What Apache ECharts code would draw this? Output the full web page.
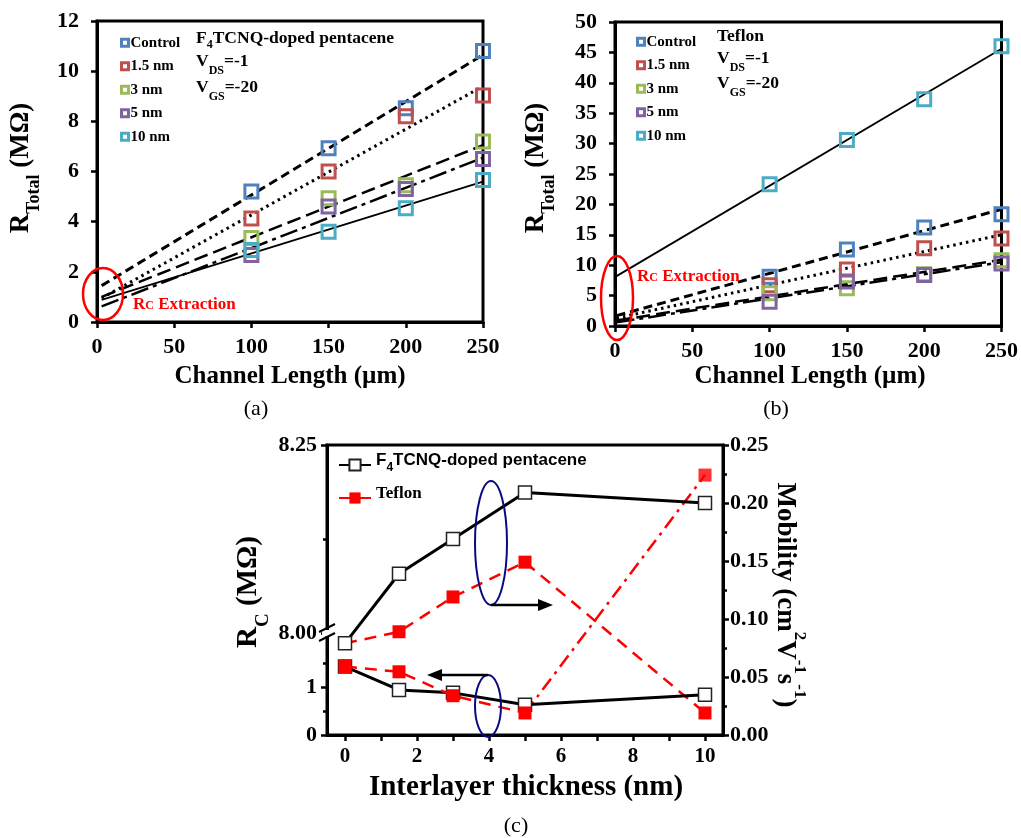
<!DOCTYPE html>
<html>
<head>
<meta charset="utf-8">
<script src="https://cdn.jsdelivr.net/npm/echarts@6/dist/echarts.min.js"></script>
<style>
  html, body { margin: 0; padding: 0; background: #fff; }
  #chart { width: 1021px; height: 838px; }
</style>
</head>
<body>
<div id="chart"></div>
<script>
// ---- data ----
const channelLength = [100, 150, 200, 250]
const seriesNames = ['Control', '1.5 nm', '3 nm', '5 nm', '10 nm']

// (a) F4TCNQ-doped pentacene, R_total (MOhm)
const aControl = [5.2, 6.93, 8.52, 10.8]
const a15nm = [4.13, 6.0, 8.2, 9.03]
const a3nm = [3.35, 4.93, 5.45, 7.2]
const a5nm = [2.67, 4.6, 5.3, 6.5]
const a10nm = [2.87, 3.6, 4.53, 5.66]
// linear fits (value at start / end of the fitted line)
const aFitX = [3, 250]
const aFitStart = [1.45, 0.95, 1.0, 0.62, 0.88]
const aFitEnd = [10.65, 9.4, 7.05, 6.55, 5.6]

// (b) Teflon, R_total (MOhm)
const bControl = [8.1, 12.6, 16.2, 18.4]
const b15nm = [6.7, 9.3, 12.8, 14.4]
const b3nm = [5.4, 6.2, 8.5, 10.8]
const b5nm = [4.0, 7.3, 8.4, 10.3]
const b10nm = [23.3, 30.6, 37.3, 46.0]
const bFitX = [1, 250]
const bFitStart = [1.7, 1.3, 0.9, 0.6, 8.2]
const bFitEnd = [19.2, 15.0, 10.9, 10.5, 45.6]

// (c) vs interlayer thickness
const thickness = [0, 1.5, 3, 5, 10]
const mobF4 = [0.079, 0.139, 0.169, 0.209, 0.200]
const mobTeflon = [0.079, 0.089, 0.119, 0.149, 0.019]
const rcF4 = [1.43, 0.94, 0.88, 0.63, 0.84]
const rcTeflon = [1.43, 1.32, 0.82, 0.46, 8.21]
const rcBreak = 8   // values above this sit on the upper (broken) part of the axis

const colors = ['#4F81BD', '#C0504D', '#9BBB59', '#8064A2', '#4BACC6']
const fitStyles = [
  { type: [9, 5], width: 3 },
  { type: [2.5, 4], width: 3 },
  { type: [14, 6], width: 2.5 },
  { type: [18, 5, 4, 5], width: 2.5 },
  { type: 'solid', width: 1.8 }
]
const SERIF = '"Liberation Serif", "Times New Roman", serif'
const SANS = '"Liberation Sans", Arial, sans-serif'
const F4NAME = 'F4TCNQ-doped pentacene'

const chart = echarts.init(document.getElementById('chart'))

function valAxis(o) {
  return {
    type: 'value',
    gridIndex: o.grid,
    position: o.pos,
    min: o.min,
    max: o.max,
    interval: o.interval,
    show: o.show !== false,
    splitLine: { show: false },
    axisLine: { show: true, onZero: false, lineStyle: { color: '#000', width: 3 } },
    axisTick: { show: true, length: 6, customValues: o.tickValues, lineStyle: { color: '#000', width: 2.5 } },
    minorTick: { show: !!o.minor, splitNumber: 2, length: 4, lineStyle: { color: '#000', width: 2.5 } },
    axisLabel: {
      color: '#000', fontFamily: SERIF, fontWeight: 'bold', fontSize: o.fs || 22,
      margin: o.margin, formatter: o.fmt, customValues: o.labelValues
    }
  }
}

const pointSets = [[aControl, a15nm, a3nm, a5nm, a10nm], [bControl, b15nm, b3nm, b5nm, b10nm]]
const fitSets = [[aFitX, aFitStart, aFitEnd], [bFitX, bFitStart, bFitEnd]]

const series = []
for (let p = 0; p < 2; p++) {
  for (let i = 0; i < 5; i++) {
    const fx = fitSets[p][0]
    series.push({
      name: 'fit-' + p + '-' + i,
      type: 'line',
      xAxisIndex: p, yAxisIndex: p,
      data: [[fx[0], fitSets[p][1][i]], [fx[1], fitSets[p][2][i]]],
      symbol: 'none',
      silent: true,
      z: 2,
      lineStyle: { color: '#000', width: fitStyles[i].width, type: fitStyles[i].type }
    })
    series.push({
      name: seriesNames[i],
      type: 'scatter',
      xAxisIndex: p, yAxisIndex: p,
      data: channelLength.map((x, k) => [x, pointSets[p][i][k]]),
      symbol: 'rect',
      symbolSize: 13,
      z: 3,
      itemStyle: { color: 'rgba(255,255,255,0)', borderColor: colors[i], borderWidth: 3, opacity: 1 }
    })
  }
}

// (c) mobility on the right axis
series.push({
  name: 'Teflon', type: 'line', xAxisIndex: 2, yAxisIndex: 2, z: 4,
  data: thickness.map((t, k) => [t, mobTeflon[k]]),
  symbol: 'rect', symbolSize: 13,
  itemStyle: { color: '#ff0000' },
  lineStyle: { color: '#ff0000', width: 2.5, type: [12, 8] }
})
series.push({
  name: F4NAME, type: 'line', xAxisIndex: 2, yAxisIndex: 2, z: 5,
  data: thickness.map((t, k) => [t, mobF4[k]]),
  symbol: 'rect', symbolSize: 13,
  itemStyle: { color: '#fff', borderColor: '#222', borderWidth: 1.5 },
  lineStyle: { color: '#000', width: 3 }
})
// (c) contact resistance on the broken left axis
series.push({
  name: F4NAME, type: 'line', xAxisIndex: 3, yAxisIndex: 3, z: 4,
  data: thickness.map((t, k) => [t, rcF4[k]]),
  symbol: 'rect', symbolSize: 13,
  itemStyle: { color: '#fff', borderColor: '#222', borderWidth: 1.5 },
  lineStyle: { color: '#000', width: 3 }
})
series.push({
  name: 'Teflon', type: 'line', xAxisIndex: 3, yAxisIndex: 3, z: 5,
  data: thickness.map((t, k) => [t, rcTeflon[k]]).filter(d => d[1] < rcBreak),
  symbol: 'rect', symbolSize: 13,
  itemStyle: { color: '#ff0000' },
  lineStyle: { color: '#ff0000', width: 2.5, type: [12, 8] }
})
series.push({
  name: 'Teflon', type: 'scatter', xAxisIndex: 4, yAxisIndex: 4, z: 5,
  data: thickness.map((t, k) => [t, rcTeflon[k]]).filter(d => d[1] >= rcBreak),
  symbol: 'rect', symbolSize: 13,
  itemStyle: { color: '#ff0000' }
})

// ---- text helpers (graphic text uses zrender "fill" for colour) ----
const subRich = (size, subSize, drop, color) => ({
  m: { fontFamily: SERIF, fontWeight: 'bold', fontSize: size, lineHeight: size + 2, padding: [0, 0, drop, 0], verticalAlign: 'bottom', fill: color || '#000' },
  s: { fontFamily: SERIF, fontWeight: 'bold', fontSize: subSize, lineHeight: subSize + 1, verticalAlign: 'bottom', fill: color || '#000' },
  f: { fontFamily: SERIF, fontWeight: 'bold', fontSize: subSize, lineHeight: subSize + 1, padding: [0, 0, Math.round(drop / 2), 0], verticalAlign: 'bottom', fill: color || '#000' }
})
function txt(x, y, text, rich, extra) {
  return Object.assign({
    type: 'text', x: x, y: y, z: 20, silent: true,
    style: { text: text, rich: rich, align: 'center', verticalAlign: 'middle' }
  }, extra || {})
}
function leftTxt(x, y, text, rich) {
  return txt(x, y, text, rich, { style: { text: text, rich: rich, align: 'left', verticalAlign: 'middle' } })
}
const plain = (size, weight) => ({ t: { fontFamily: SERIF, fontWeight: weight || 'bold', fontSize: size, fill: '#000' } })
const annRich = subRich(17.5, 12, 6)
const redRich = {
  r: { fontFamily: SERIF, fontWeight: 'bold', fontSize: 17, lineHeight: 18, verticalAlign: 'bottom', fill: '#ff0000' },
  c: { fontFamily: SERIF, fontWeight: 'bold', fontSize: 12, lineHeight: 14, verticalAlign: 'bottom', padding: [0, 0, 1, 0], fill: '#ff0000' }
}
const yTitleRich = subRich(27, 18, 9)
const supRich = {
  m: { fontFamily: SERIF, fontWeight: 'bold', fontSize: 27, lineHeight: 29, padding: [9, 0, 0, 0], verticalAlign: 'top', fill: '#000' },
  p: { fontFamily: SERIF, fontWeight: 'bold', fontSize: 17, lineHeight: 18, verticalAlign: 'top', fill: '#000' }
}

const graphics = [
  // panel (a)
  txt(29, 168, '{m|R}{s|Total}{m| (MΩ)}', yTitleRich, { rotation: Math.PI / 2 }),
  txt(290, 377, '{t|Channel Length (µm)}', plain(25)),
  txt(256, 409, '{t|(a)}', plain(22, 'normal')),
  leftTxt(196, 44, '{m|F}{f|4}{m|TCNQ-doped pentacene}', annRich),
  leftTxt(196, 67, '{m|V}{s|DS}{m|=-1}', annRich),
  leftTxt(196, 93, '{m|V}{s|GS}{m|=-20}', annRich),
  { type: 'ellipse', z: 20, silent: true, shape: { cx: 103, cy: 294, rx: 20, ry: 26 }, style: { fill: null, stroke: '#ff0000', lineWidth: 2.5 } },
  leftTxt(133, 304, '{r|R}{c|C}{r| Extraction}', redRich),
  // panel (b)
  txt(544, 168, '{m|R}{s|Total}{m| (MΩ)}', yTitleRich, { rotation: Math.PI / 2 }),
  txt(810, 377, '{t|Channel Length (µm)}', plain(25)),
  txt(776, 409, '{t|(b)}', plain(22, 'normal')),
  leftTxt(717, 42, '{m|Teflon}', annRich),
  leftTxt(717, 64, '{m|V}{s|DS}{m|=-1}', annRich),
  leftTxt(717, 89, '{m|V}{s|GS}{m|=-20}', annRich),
  { type: 'ellipse', z: 20, silent: true, shape: { cx: 617, cy: 298, rx: 16, ry: 42 }, style: { fill: null, stroke: '#ff0000', lineWidth: 2.5 } },
  leftTxt(637, 276, '{r|R}{c|C}{r| Extraction}', redRich),
  // panel (c)
  txt(257, 592, '{m|R}{s|C}{m| (MΩ)}', subRich(29, 19, 9), { rotation: Math.PI / 2 }),
  txt(793, 595, '{m|Mobility (cm}{p|2}{m|V}{p|-1}{m|s}{p|-1}{m|)}', supRich, { rotation: -Math.PI / 2 }),
  txt(526, 788, '{t|Interlayer thickness (nm)}', plain(29)),
  txt(516, 826, '{t|(c)}', plain(22, 'normal')),
  { type: 'ellipse', z: 20, silent: true, shape: { cx: 491, cy: 543, rx: 16, ry: 62 }, style: { fill: null, stroke: '#0a0a80', lineWidth: 2 } },
  { type: 'line', z: 20, silent: true, shape: { x1: 491, y1: 605, x2: 540, y2: 605 }, style: { stroke: '#000', lineWidth: 2.5 } },
  { type: 'polygon', z: 20, silent: true, shape: { points: [[538, 599], [553, 605], [538, 611]] }, style: { fill: '#000' } },
  { type: 'ellipse', z: 20, silent: true, shape: { cx: 488, cy: 706, rx: 13, ry: 31 }, style: { fill: null, stroke: '#0a0a80', lineWidth: 2 } },
  { type: 'line', z: 20, silent: true, shape: { x1: 488, y1: 675, x2: 440, y2: 675 }, style: { stroke: '#000', lineWidth: 2.5 } },
  { type: 'polygon', z: 20, silent: true, shape: { points: [[442, 669], [427, 675], [442, 681]] }, style: { fill: '#000' } },
  // axis break mark
  { type: 'rect', z: 30, silent: true, shape: { x: 322, y: 630, width: 10, height: 6 }, style: { fill: '#fff' } },
  { type: 'line', z: 31, silent: true, shape: { x1: 319, y1: 632, x2: 335, y2: 624 }, style: { stroke: '#000', lineWidth: 2 } },
  { type: 'line', z: 31, silent: true, shape: { x1: 319, y1: 641, x2: 335, y2: 633 }, style: { stroke: '#000', lineWidth: 2 } }
]

const legendAB = (left, top) => ({
  left: left, top: top, orient: 'vertical',
  itemWidth: 7, itemHeight: 7, itemGap: 8,
  selectedMode: false,
  textStyle: { fontFamily: SERIF, fontWeight: 'bold', fontSize: 15, lineHeight: 15.5, color: '#000', padding: [0, 0, 0, -3] },
  data: seriesNames.map((n, i) => ({ name: n, icon: 'rect', itemStyle: { color: '#fff', borderColor: colors[i], borderWidth: 3 } }))
})

const option = {
  backgroundColor: '#fff',
  animation: false,
  grid: [
    { left: 97, top: 21, width: 386, height: 301, show: true, borderColor: '#000', borderWidth: 3 },
    { left: 615, top: 22, width: 390, height: 304, show: true, borderColor: '#000', borderWidth: 3 },
    { left: 327, top: 445, width: 396, height: 290, show: true, borderColor: '#000', borderWidth: 3 },
    { left: 327, top: 633, width: 396, height: 102 },
    { left: 327, top: 445, width: 396, height: 188 }
  ],
  xAxis: [
    valAxis({ grid: 0, min: 0, max: 250, interval: 50, margin: 14 }),
    valAxis({ grid: 1, min: 0, max: 250, interval: 50, margin: 14 }),
    valAxis({ grid: 2, min: -0.5, max: 10.5, fs: 21, margin: 11,
      labelValues: [0, 2, 4, 6, 8, 10], tickValues: [0, 1, 2, 3, 4, 5, 6, 7, 8, 9, 10] }),
    valAxis({ grid: 3, min: -0.5, max: 10.5, show: false }),
    valAxis({ grid: 4, min: -0.5, max: 10.5, show: false })
  ],
  yAxis: [
    valAxis({ grid: 0, min: 0, max: 12, interval: 2, margin: 18 }),
    valAxis({ grid: 1, min: 0, max: 50, interval: 5, margin: 18 }),
    valAxis({ grid: 2, pos: 'right', min: 0, max: 0.25, interval: 0.05, minor: true, margin: 7,
      fmt: v => v.toFixed(2) }),
    valAxis({ grid: 3, pos: 'left', min: 0, max: 2.13, interval: 1, minor: true, margin: 10,
      labelValues: [0, 1], tickValues: [0, 1] }),
    valAxis({ grid: 4, pos: 'left', min: 8, max: 8.25, interval: 0.25, minor: true, margin: 10,
      fmt: v => v.toFixed(2) })
  ],
  legend: [
    legendAB(115, 30),
    legendAB(631, 29),
    {
      left: 333, top: 447, orient: 'vertical',
      itemWidth: 32, itemHeight: 14, itemGap: 11,
      selectedMode: false,
      data: [F4NAME, 'Teflon'],
      formatter: n => n === F4NAME ? '{f|F}{s|4}{f|TCNQ-doped pentacene}' : '{t|Teflon}',
      textStyle: {
        color: '#000',
        rich: {
          f: { fontFamily: SANS, fontWeight: 'bold', fontSize: 17, lineHeight: 18, padding: [0, 0, 5, 0], verticalAlign: 'bottom', color: '#000' },
          s: { fontFamily: SANS, fontWeight: 'bold', fontSize: 12, lineHeight: 12, verticalAlign: 'bottom', color: '#000' },
          t: { fontFamily: SERIF, fontWeight: 'bold', fontSize: 17, lineHeight: 18, padding: [0, 0, 5, 0], verticalAlign: 'bottom', color: '#000' }
        }
      }
    }
  ],
  series: series,
  graphic: { elements: graphics }
}

chart.setOption(option)

// segment of the Teflon R_C line that crosses the axis break
const crossing = []
for (let k = 1; k < thickness.length; k++) {
  const aUp = rcTeflon[k - 1] >= rcBreak
  const bUp = rcTeflon[k] >= rcBreak
  if (aUp !== bUp) {
    const p1 = chart.convertToPixel({ gridIndex: aUp ? 4 : 3 }, [thickness[k - 1], rcTeflon[k - 1]])
    const p2 = chart.convertToPixel({ gridIndex: bUp ? 4 : 3 }, [thickness[k], rcTeflon[k]])
    crossing.push({
      type: 'polyline', z: 3, silent: true,
      shape: { points: [p1, p2] },
      style: { fill: null, stroke: '#ff0000', lineWidth: 2.5, lineDash: [14, 6, 3, 6] }
    })
  }
}
chart.setOption({ graphic: { elements: graphics.concat(crossing) } })
</script>
</body>
</html>
